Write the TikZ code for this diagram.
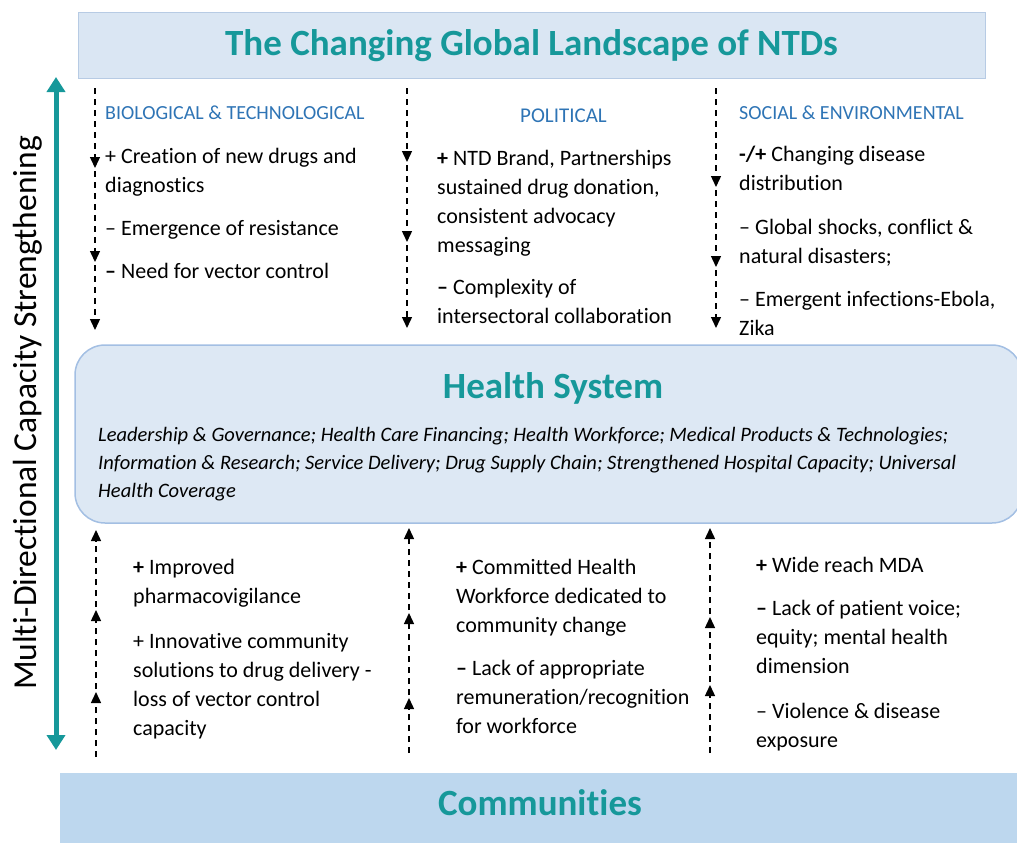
\documentclass[tikz,border=0pt]{standalone}
\usepackage{fontspec}
\setmainfont{Carlito}[Ligatures={TeX,NoCommon}]
\usepackage{xcolor}
\usetikzlibrary{arrows.meta}

\definecolor{ntdteal}{HTML}{16989A}
\definecolor{headblue}{HTML}{2E74B5}
\definecolor{topfill}{HTML}{DAE6F3}
\definecolor{topline}{HTML}{B7CBE4}
\definecolor{hsfill}{HTML}{DDE8F4}
\definecolor{hsline}{HTML}{A3BFE3}
\definecolor{commfill}{HTML}{BDD7EE}

% anchor base of a multi-line node = baseline of its last line
\tikzset{
  dasharr/.style={dash pattern=on 6pt off 5pt, line width=1.4pt, -{Triangle[width=10pt,length=11pt]}},
  bigarr/.style={ntdteal, line width=5pt, {Triangle[width=18pt,length=15pt]}-{Triangle[width=18pt,length=15pt]}},
  txt/.style={anchor=base west, inner sep=0pt, align=left, font=\fontsize{22}{29}\selectfont},
  head/.style={anchor=base west, inner sep=0pt, text=headblue, font=\fontsize{20}{24}\selectfont},
  bigtitle/.style={text=ntdteal, font=\fontsize{37}{44}\selectfont\bfseries},
}

\begin{document}
\begin{tikzpicture}[x=1pt,y=-1pt]
    \useasboundingbox (0,0) rectangle (1017,843);
    % the three layers
    \node[draw=topline, fill=topfill, line width=1pt, minimum width=907pt, minimum height=65pt, bigtitle] (top) at (531.5,45.5) {The Changing Global Landscape of NTDs};
    \node[draw=hsline, fill=hsfill, line width=1.5pt, rounded corners=30pt, minimum width=947pt, minimum height=178pt] (health) at (548.5,434) {};
    \node[fill=commfill, minimum width=970pt, minimum height=77pt] (comm) at (545,811.5) {};
    \node[anchor=base, bigtitle] (hstitle) at (553,398) {Health System};
    \node[anchor=base, bigtitle] (commtitle) at (540,815) {Communities};

    % side arrow
    \coordinate (mdtop) at (56,77);
    \coordinate (mdbot) at (56,750);
    \draw[bigarr] (mdbot) -- (mdtop);
    \node[rotate=90, font=\fontsize{33.5}{40}\selectfont] (mdcs) at (28,413) {Multi-Directional Capacity Strengthening};

    % landscape
    \node[head] (bio) at (105,119) {BIOLOGICAL \& TECHNOLOGICAL};
    \node[txt] (bioA) at (105,192) {+ Creation of new drugs and\\diagnostics};
    \node[txt] (bioB) at (105,235) {– Emergence of resistance};
    \node[txt] (bioC) at (105,278) {\textbf{–} Need for vector control};

    \node[head, font=\fontsize{21}{25}\selectfont] (pol) at (520,122) {POLITICAL};
    \node[txt] (polA) at (437,252) {\textbf{+} NTD Brand, Partnerships\\sustained drug donation,\\consistent advocacy\\messaging};
    \node[txt] (polB) at (437,323) {\textbf{–} Complexity of\\intersectoral collaboration};

    \node[head] (soc) at (739,119) {SOCIAL \& ENVIRONMENTAL};
    \node[txt] (socA) at (739,190) {\textbf{-/+} Changing disease\\distribution};
    \node[txt] (socB) at (739,263) {– Global shocks, conflict \&\\natural disasters;};
    \node[txt] (socC) at (739,335) {– Emergent infections-Ebola,\\Zika};

    % health system pillars
    \node[anchor=base west, inner sep=0pt, align=left, font=\fontsize{20.5}{28}\selectfont\itshape] (hsitems) at (98,497) {Leadership \& Governance; Health Care Financing; Health Workforce; Medical Products \& Technologies;\\Information \& Research; Service Delivery; Drug Supply Chain; Strengthened Hospital Capacity; Universal\\Health Coverage};

    % community side
    \node[txt] (cA) at (133,603) {\textbf{+} Improved\\pharmacovigilance};
    \node[txt] (cB) at (133,735) {+ Innovative community\\solutions to drug delivery -\\loss of vector control\\capacity};
    \node[txt] (wA) at (456,632) {\textbf{+} Committed Health\\Workforce dedicated to\\community change};
    \node[txt] (wB) at (456,733) {\textbf{–} Lack of appropriate\\remuneration/recognition\\for workforce};
    \node[txt] (mA) at (756,572) {\textbf{+} Wide reach MDA};
    \node[txt] (mB) at (756,673) {\textbf{–} Lack of patient voice;\\equity; mental health\\dimension};
    \node[txt] (mC) at (756,747) {– Violence \& disease\\exposure};

    % dashed arrows down
    \coordinate (d1a) at (95,88);  \coordinate (d1b) at (95,168);  \coordinate (d1c) at (95,262);  \coordinate (d1d) at (95,330);
    \coordinate (d2a) at (407,88); \coordinate (d2b) at (407,162); \coordinate (d2c) at (407,242); \coordinate (d2d) at (407,328);
    \coordinate (d3a) at (716,88); \coordinate (d3b) at (716,187); \coordinate (d3c) at (716,267); \coordinate (d3d) at (716,328);
    \draw[dasharr] (d1a) -- (d1b);
    \draw[dasharr, shorten <=3pt] (d1b) -- (d1c);
    \draw[dasharr, shorten <=3pt] (d1c) -- (d1d);
    \draw[dasharr] (d2a) -- (d2b);
    \draw[dasharr, shorten <=3pt] (d2b) -- (d2c);
    \draw[dasharr, shorten <=3pt] (d2c) -- (d2d);
    \draw[dasharr] (d3a) -- (d3b);
    \draw[dasharr, shorten <=3pt] (d3b) -- (d3c);
    \draw[dasharr, shorten <=3pt] (d3c) -- (d3d);

    % dashed arrows up
    \coordinate (u1a) at (96,757);  \coordinate (u1b) at (96,692);  \coordinate (u1c) at (96,610);  \coordinate (u1d) at (96,530);
    \coordinate (u2a) at (409,753); \coordinate (u2b) at (409,698); \coordinate (u2c) at (409,613); \coordinate (u2d) at (409,528);
    \coordinate (u3a) at (710,753); \coordinate (u3b) at (710,685); \coordinate (u3c) at (710,617); \coordinate (u3d) at (710,528);
    \draw[dasharr] (u1a) -- (u1b);
    \draw[dasharr, shorten <=3pt] (u1b) -- (u1c);
    \draw[dasharr, shorten <=3pt] (u1c) -- (u1d);
    \draw[dasharr] (u2a) -- (u2b);
    \draw[dasharr, shorten <=3pt] (u2b) -- (u2c);
    \draw[dasharr, shorten <=3pt] (u2c) -- (u2d);
    \draw[dasharr] (u3a) -- (u3b);
    \draw[dasharr, shorten <=3pt] (u3b) -- (u3c);
    \draw[dasharr, shorten <=3pt] (u3c) -- (u3d);
\end{tikzpicture}
\end{document}
